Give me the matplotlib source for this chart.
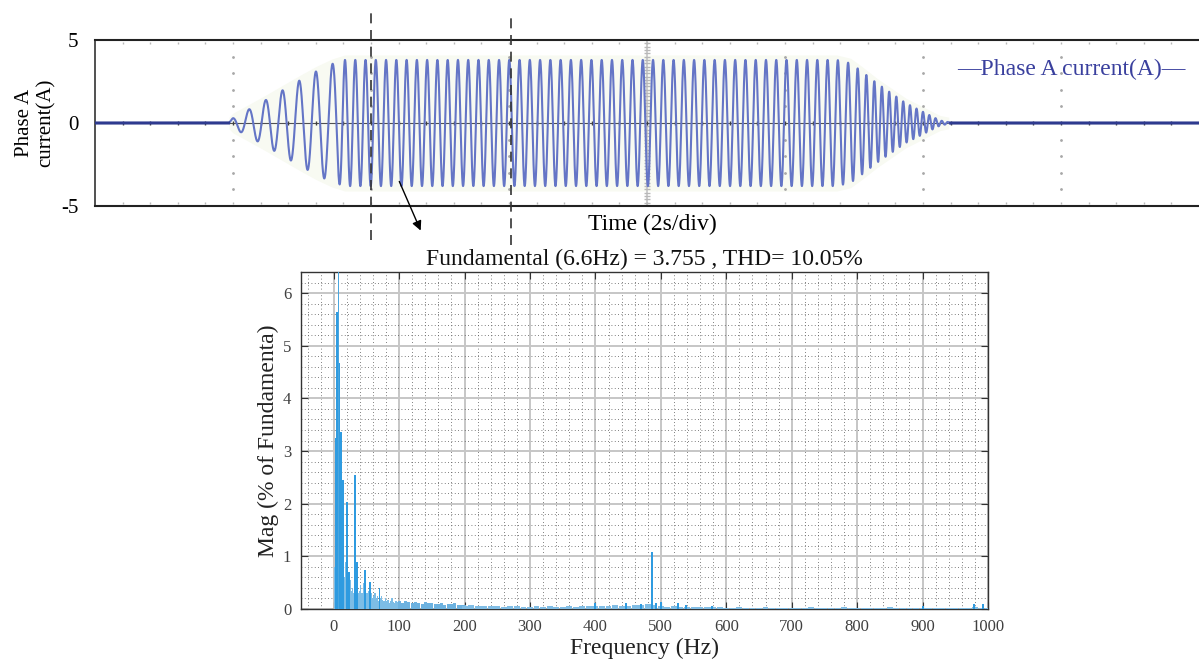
import matplotlib
matplotlib.use("Agg")
import matplotlib.pyplot as plt
import numpy as np

plt.rcParams['font.family'] = ['Liberation Serif', 'DejaVu Serif']
plt.rcParams['axes.unicode_minus'] = False

# ---- top panel: phase A current (scope capture), 2 s/div, 8 div ----
env_t = [1.93, 2.00, 2.20, 2.46, 2.71, 2.96, 3.20, 3.43, 3.62, 10.75, 10.95, 11.10,
         11.33, 11.54, 11.75, 11.94, 12.13, 12.25, 12.40]
env_a = [0.0, 0.30, 0.75, 1.35, 1.95, 2.55, 3.10, 3.55, 3.80, 3.80, 3.60, 3.15,
         2.40, 1.80, 1.20, 0.80, 0.40, 0.15, 0.03]
freq_t = [1.93, 3.45, 3.60, 10.90, 11.30, 11.90, 12.40]
freq_hz = [4.13, 4.13, 6.72, 6.72, 9.0, 10.6, 11.5]
fft_window = [4.0, 6.03]

# ---- bottom panel: FFT of the window, % of fundamental ----
fund_freq, fund_mag = 6.6, 100.0
low_step = 2.0
low_mag = [0.8, 2.6, 3.0, 2.4, 1.8, 1.2, 0.7, 1.1, 0.6, 0.9,
           0.4, 0.5, 0.55, 0.35, 0.4, 0.3, 0.45, 0.5, 0.3, 0.35,
           0.45, 0.3, 0.5, 0.35, 0.4, 0.3, 0.35, 0.25, 0.3, 0.2,
           0.25, 0.3, 0.2, 0.25, 0.15, 0.2, 0.25, 0.18, 0.15, 0.2,
           0.15, 0.18, 0.12, 0.15, 0.2, 0.14, 0.12, 0.16, 0.13, 0.15]
mid_step = 5.0
mid_mag = [0.16, 0.12, 0.15, 0.13, 0.11, 0.14, 0.12, 0.10, 0.13, 0.11, 0.12,
           0.10, 0.09, 0.11, 0.08, 0.10, 0.09, 0.12, 0.08, 0.07, 0.08]
high_step = 10.0
high_mag = [0.06, 0.07, 0.05, 0.06, 0.05, 0.05, 0.04, 0.06, 0.05, 0.04,
            0.04, 0.05, 0.04, 0.05, 0.04, 0.04, 0.05, 0.04, 0.05, 0.06,
            0.05, 0.06, 0.05, 0.07, 0.06, 0.05, 0.07, 0.08, 0.09, 0.08,
            0.05, 0.04, 0.05, 0.04, 0.03, 0.03, 0.03, 0.04, 0.03, 0.03,
            0.02, 0.02, 0.03, 0.02, 0.02, 0.02, 0.03, 0.02, 0.02, 0.02,
            0.02, 0.02, 0.02, 0.03, 0.02, 0.02, 0.02, 0.02, 0.03, 0.02,
            0.02, 0.02, 0.02, 0.02, 0.02, 0.03, 0.02, 0.02, 0.02, 0.02,
            0.02, 0.02, 0.02, 0.02, 0.02, 0.02, 0.02, 0.02, 0.03, 0.02,
            0.02]
peak_freq = [3.0, 4.6, 8.0, 10.5, 14.0, 19.8, 24.0, 33.0, 35.0, 48.0, 55.0, 70.0,
             400, 447, 470, 486, 493, 500, 526, 539, 578, 900, 979, 992]
peak_mag = [3.24, 5.64, 4.67, 3.36, 2.45, 2.04, 0.71, 2.54, 0.90, 0.74, 0.52, 0.40,
            0.12, 0.11, 0.10, 1.08, 0.12, 0.13, 0.12, 0.08, 0.06, 0.05, 0.10, 0.10]

fig = plt.figure(figsize=(11.99, 6.66), dpi=100)

# ================= top =================
ax1 = fig.add_axes([95 / 1199, 1 - 206 / 666, 1104 / 1199, 166 / 666])
t = np.arange(0, 16.0001, 0.002)
f_inst = np.interp(t, freq_t, freq_hz)
phase = 2 * np.pi * np.cumsum(f_inst) * 0.002
phase -= np.interp(env_t[0], t, phase)
amp = np.interp(t, env_t, env_a, left=0, right=0)
i_a = amp * np.sin(phase)

# scope graticule
for td in range(2, 16, 2):
    if td == 8:
        continue
    ax1.plot([td] * 8, [-4, -3, -2, -1, 1, 2, 3, 4], ls='none', marker='.',
             ms=2, color='#a8a8a8')
ax1.axvline(8, color='#cccccc', lw=1.4, zorder=1)
yt = np.arange(-4.8, 4.81, 0.2)
ax1.plot([8] * len(yt), yt, ls='none', marker='_', ms=4, color='#b8b8b8', zorder=1)
xt = np.arange(0.4, 16, 0.4)
ax1.plot(xt, [4.8] * len(xt), ls='none', marker='|', ms=2, color='#b8b8b8')
ax1.plot(xt, [-4.8] * len(xt), ls='none', marker='|', ms=2, color='#b8b8b8')
ax1.axhline(0, color='#505050', lw=0.8, zorder=1)
ax1.plot(xt, [0] * len(xt), ls='none', marker='|', ms=3, color='#404040', zorder=1)

ax1.fill_between(t, -amp - 0.3, amp + 0.3, where=amp > 0.05,
                 color='#f8faf2', lw=0, zorder=0)
ax1.plot(t, i_a, color='#6475c6', lw=1.5, zorder=3)
idle = amp < 0.02
ax1.plot(np.where(idle, t, np.nan), np.where(idle, i_a, np.nan),
         color='#2e3a8f', lw=2.2, zorder=3)

ax1.set_xlim(0, 16)
ax1.set_ylim(-5, 5)
ax1.set_xticks([])
ax1.set_yticks([-5, 0, 5])
ax1.set_yticklabels(['-5', '0', '5'], fontsize=15)
ax1.tick_params(axis='y', length=0, pad=12)
for s in ['top', 'bottom']:
    ax1.spines[s].set_linewidth(1.5)
    ax1.spines[s].set_color('#222222')
ax1.spines['left'].set_color('#333333')
ax1.spines['left'].set_linewidth(1.2)
ax1.spines['right'].set_visible(False)
ax1.set_ylabel('Phase A\ncurrent(A)', fontsize=15, linespacing=1.15)
ax1.yaxis.set_label_coords(-0.054, 0.5)
ax1.yaxis.label.set_va('center')
ax1.set_xlabel('Time (2s/div)', fontsize=17)
ax1.xaxis.set_label_coords(0.505, -0.114)
ax1.xaxis.label.set_va('center')
ax1.text(0.781, 0.82, '\u2014Phase A current(A)\u2014', transform=ax1.transAxes,
         fontsize=17, color='#3a409e', ha='left', va='center')

for tw, y0, y1 in [(fft_window[0], -0.205, 1.19), (fft_window[1], -0.235, 1.17)]:
    ax1.axvline(tw, ymin=y0, ymax=y1, color='#333333', lw=1.2,
                ls=(0, (6, 4)), clip_on=False, zorder=5)
ax1.annotate('', xy=(4.72, -6.48), xytext=(4.41, -3.52), annotation_clip=False,
             arrowprops=dict(arrowstyle='-|>', color='black', lw=1.0,
                             mutation_scale=14, shrinkA=0, shrinkB=0))

# ================= bottom =================
ax2 = fig.add_axes([301 / 1199, 1 - 609 / 666, 687 / 1199, 337 / 666])
low_f = low_step / 2 + low_step * np.arange(len(low_mag))
mid_f = 100 + mid_step * np.arange(len(mid_mag))
high_f = 200 + high_step * np.arange(len(high_mag))

ax2.bar(low_f, low_mag, width=2.0, color='#7dbde6', edgecolor='none', zorder=3)
ax2.bar(mid_f, mid_mag, width=4.5, color='#6db2e0', edgecolor='none', zorder=3)
ax2.bar(high_f, high_mag, width=9.0, color='#80bde5', edgecolor='none', zorder=3)
ax2.bar(peak_freq, peak_mag, width=3.0, color='#2f9be0', edgecolor='none', zorder=4)
ax2.bar([fund_freq], [fund_mag], width=1.6, color='#4aa6de', edgecolor='none', zorder=4)

ax2.set_xlim(-50, 1000)
ax2.set_ylim(0, 6.4)
ax2.set_xticks(np.arange(0, 1001, 100))
ax2.set_yticks(np.arange(0, 7, 1))
ax2.set_xticks(np.arange(-40, 1000, 20), minor=True)
ax2.set_yticks(np.arange(0, 6.41, 0.2), minor=True)
ax2.grid(which='major', color='#c6c6c6', lw=1.4, zorder=1)
ax2.grid(which='minor', color='#555555', lw=0.6, ls=(0, (1, 3)), zorder=1)
ax2.set_axisbelow(True)
ax2.tick_params(which='major', direction='in', length=5, top=True, right=True,
                labelsize=12, labelcolor='#404040', color='#333333', pad=7)
ax2.tick_params(which='minor', length=0)
for s in ax2.spines.values():
    s.set_color('#333333')
    s.set_linewidth(1.0)
ax2.set_ylabel('Mag (% of Fundamenta)', fontsize=17, color='#222222')
ax2.yaxis.set_label_coords(-0.048, 0.5)
ax2.yaxis.label.set_va('center')
ax2.set_xlabel('Frequency (Hz)', fontsize=17, color='#222222')
ax2.xaxis.set_label_coords(0.5, -0.116)
ax2.xaxis.label.set_va('center')
ax2.text(0.5, 1.0386, 'Fundamental (6.6Hz) = 3.755 , THD= 10.05%',
         transform=ax2.transAxes, fontsize=17, ha='center', va='center',
         color='#111111')

fig.savefig('out.png', dpi=100)
plt.close(fig)
